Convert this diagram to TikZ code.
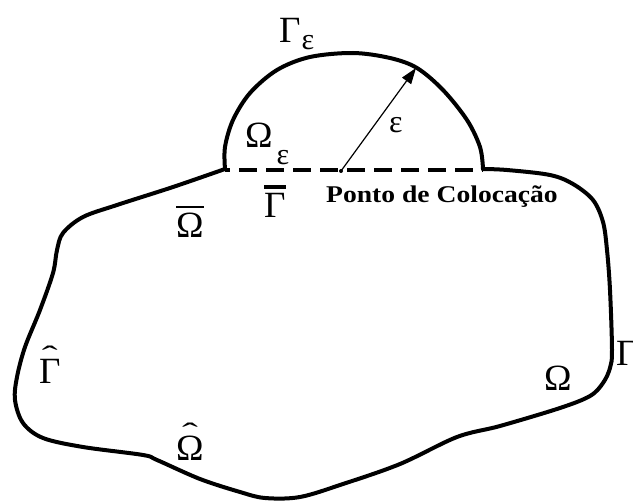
\documentclass[tikz,border=0pt]{standalone}
\usepackage{fontspec}
\setmainfont{Liberation Serif}
\usetikzlibrary{arrows.meta}
\newcommand\barred[3]{\vbox{\hrule height #1\kern #2\hbox{#3}}}
\newcommand\hatted[1]{\setbox0\hbox{#1}\makebox[0pt][l]{\hbox to \wd0{\hss\raisebox{18pt}{\fontsize{28}{28}\selectfont\scalebox{1.7}[1]{ˆ}}\hss}}\box0}
\begin{document}
\begin{tikzpicture}[x=1pt,y=-1pt,
  outline/.style={line width=4pt,line join=round,line cap=round},
  big/.style={font=\fontsize{37}{37}\selectfont,inner sep=0pt,anchor=base west},
  small/.style={font=\fontsize{32}{32}\selectfont,inner sep=0pt,anchor=base west},
  lbl/.style={font=\fontsize{24}{24}\selectfont\bfseries,inner sep=0pt,anchor=base west,xscale=1.15}]
\useasboundingbox (0,0) rectangle (633,503);
% dome
\draw[outline] plot[smooth,tension=0.55] coordinates {(225,169) (225,147) (233,120) (250,93) (277,70) (310,57) (353,53) (390,58) (417,68) (443,90) (467,120) (480,147) (483,169)};
% body
\draw[outline] plot[smooth,tension=0.55] coordinates {(483,169) (507,170) (550,175) (573,184) (593,200) (603,222) (607,250) (610,290) (612,350) (610,368) (603,383) (590,396) (560,408) (500,426) (457,437) (400,464) (343,484) (300,497) (265,498) (240,492) (200,479) (157,460) (143,455) (83,447) (43,438) (23,423) (15,400) (17,377) (25,347) (40,310) (53,273) (57,250) (63,233) (83,217) (117,205) (173,187) (225,169)};
% dashed base
\coordinate (bl) at (225,170);
\coordinate (br) at (483,170);
\draw[line width=3.5pt,dash pattern=on 18pt off 9pt,dash phase=-14pt] (bl) -- (br);
% radius arrow
\coordinate (pc) at (341,171);
\coordinate (tip) at (416,68);
\fill (pc) circle (2pt);
\draw[line width=1.2pt,-{Triangle[length=16pt,width=11pt]}] (pc) -- (tip);
% labels
\node[big] (ge) at (279,43) {Γ\kern1pt\raisebox{-7pt}{\fontsize{30}{30}\selectfont ε}};
\node[big] (oe) at (245,148) {Ω\kern4pt\raisebox{-17pt}{\fontsize{30}{30}\selectfont ε}};
\node[small] (eps) at (389,133) {ε};
\node[big] (gbar) at (264,218) {\barred{3.5pt}{5pt}{Γ}};
\node[lbl] (pt) at (326,203) {Ponto de Colocação};
\node[big] (obar) at (176,237) {\barred{1.2pt}{5pt}{Ω}};
\node[big] (ghat) at (39,383) {\hatted{Γ}};
\node[big] (ohat) at (176,460) {\hatted{Ω}};
\node[big] (om) at (544,390) {Ω};
\node[big] (gr) at (616,365) {Γ};
\end{tikzpicture}
\end{document}
